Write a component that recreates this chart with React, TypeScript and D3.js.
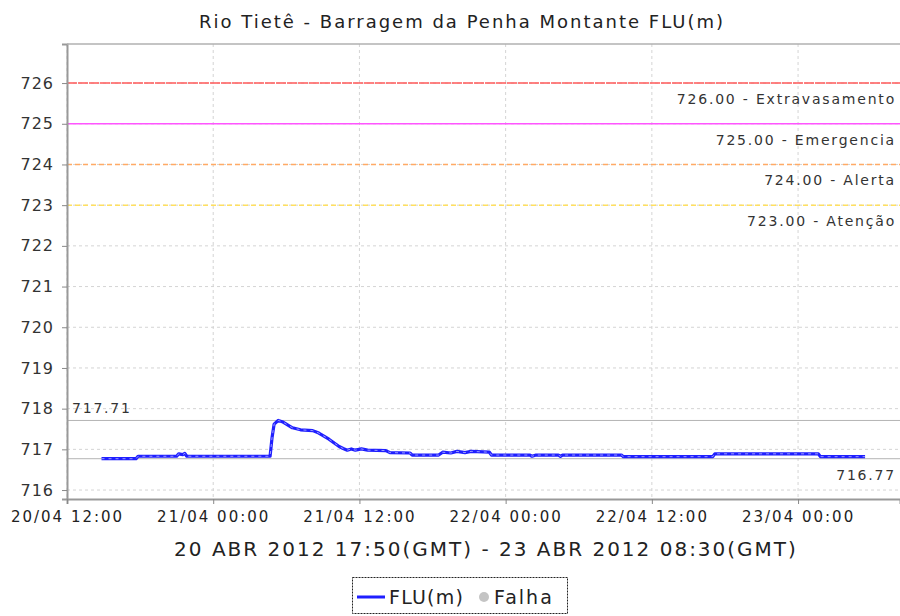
import { useEffect, useRef } from "react";
import * as d3 from "d3";

const chartTitle = "Rio Tietê - Barragem da Penha Montante FLU(m)";
const periodLabel = "20 ABR 2012 17:50(GMT) - 23 ABR 2012 08:30(GMT)";

// readings, local time (GMT-3)
const times = [
  "2012-04-20 14:50", "2012-04-20 17:40", "2012-04-20 17:50", "2012-04-20 21:00",
  "2012-04-20 21:10", "2012-04-20 21:30", "2012-04-20 21:40", "2012-04-20 21:50",
  "2012-04-21 04:40", "2012-04-21 04:50", "2012-04-21 05:00", "2012-04-21 05:20",
  "2012-04-21 05:40", "2012-04-21 06:00", "2012-04-21 06:30", "2012-04-21 07:10",
  "2012-04-21 08:10", "2012-04-21 08:40", "2012-04-21 09:30", "2012-04-21 10:20",
  "2012-04-21 10:40", "2012-04-21 11:00", "2012-04-21 11:20", "2012-04-21 11:40",
  "2012-04-21 12:10", "2012-04-21 12:40", "2012-04-21 14:10", "2012-04-21 14:30",
  "2012-04-21 16:10", "2012-04-21 16:20", "2012-04-21 18:30", "2012-04-21 18:50",
  "2012-04-21 19:30", "2012-04-21 20:00", "2012-04-21 20:40", "2012-04-21 21:10",
  "2012-04-21 22:40", "2012-04-21 22:50", "2012-04-22 02:00", "2012-04-22 02:10",
  "2012-04-22 02:30", "2012-04-22 04:20", "2012-04-22 04:30", "2012-04-22 04:40",
  "2012-04-22 09:30", "2012-04-22 09:40", "2012-04-22 17:00", "2012-04-22 17:10",
  "2012-04-23 01:40", "2012-04-23 01:50", "2012-04-23 05:30",
];
const levels = [
  716.77, 716.77, 716.83, 716.83,
  716.89, 716.87, 716.9, 716.83,
  716.83, 717.3, 717.62, 717.71,
  717.68, 717.62, 717.53, 717.48,
  717.46, 717.4, 717.25, 717.07,
  717.02, 716.98, 717.01, 716.98,
  717.01, 716.98, 716.97, 716.92,
  716.91, 716.86, 716.86, 716.93,
  716.91, 716.95, 716.92, 716.95,
  716.93, 716.86, 716.86, 716.83,
  716.86, 716.86, 716.83, 716.86,
  716.86, 716.82, 716.82, 716.89,
  716.89, 716.82, 716.82,
];

const yTicks = [716, 717, 718, 719, 720, 721, 722, 723, 724, 725, 726];
const xTicks = ["2012-04-20 12:00", "2012-04-21 00:00", "2012-04-21 12:00", "2012-04-22 00:00", "2012-04-22 12:00", "2012-04-23 00:00"];
const xDomain = ["2012-04-20 12:00", "2012-04-23 08:22"];
const yDomain = [715.78, 726.96];

const limitValues = [726, 725, 724, 723];
const limitNames = ["Extravasamento", "Emergencia", "Alerta", "Atenção"];

const legendNames = ["FLU(m)", "Falha"];

const limitStyle: Record<number, { color: string; dash: string }> = {
  726: { color: "#ff5a5a", dash: "10,1" },
  725: { color: "#ff55ff", dash: "none" },
  724: { color: "#ffaa66", dash: "5,3" },
  723: { color: "#ffe060", dash: "5,3" },
};

const FONT = "'DejaVu Sans', sans-serif";

export default function App() {
  const ref = useRef<SVGSVGElement>(null);

  useEffect(() => {
    if (!ref.current) return;
    const svg = d3.select(ref.current);
    svg.selectAll("*").remove();

    const W = 900;
    const H = 616;
    const margin = { top: 44, right: 0, bottom: 117, left: 67 };
    const innerW = W - margin.left - margin.right;
    const innerH = H - margin.top - margin.bottom;

    const parse = d3.utcParse("%Y-%m-%d %H:%M");
    const fmt = d3.utcFormat("%d/%m %H:%M");

    const x = d3
      .scaleUtc()
      .domain(xDomain.map((s) => parse(s) as Date))
      .range([0, innerW]);

    const y = d3.scaleLinear().domain(yDomain).range([innerH, 0]);

    svg
      .append("text")
      .attr("x", 462)
      .attr("y", 28)
      .attr("text-anchor", "middle")
      .attr("fill", "#222")
      .style("font-family", FONT)
      .style("font-size", "18px")
      .style("letter-spacing", "2px")
      .text(chartTitle);

    const g = svg.append("g").attr("transform", `translate(${margin.left},${margin.top})`);

    g.append("rect").attr("width", innerW).attr("height", innerH).attr("fill", "#fff");

    // grid
    g.append("g")
      .selectAll("line")
      .data(yTicks)
      .enter()
      .append("line")
      .attr("x1", 0)
      .attr("x2", innerW)
      .attr("y1", (d) => y(d))
      .attr("y2", (d) => y(d))
      .attr("stroke", "#d4d4d4")
      .attr("stroke-dasharray", "3,3");

    g.append("g")
      .selectAll("line")
      .data(xTicks)
      .enter()
      .append("line")
      .attr("x1", (d) => x(parse(d) as Date))
      .attr("x2", (d) => x(parse(d) as Date))
      .attr("y1", 0)
      .attr("y2", innerH)
      .attr("stroke", "#d4d4d4")
      .attr("stroke-dasharray", "3,3");

    // alarm levels
    const limits = g.append("g");
    limitValues.forEach((v, i) => {
      limits
        .append("line")
        .attr("x1", 0)
        .attr("x2", innerW)
        .attr("y1", y(v))
        .attr("y2", y(v))
        .attr("stroke", limitStyle[v].color)
        .attr("stroke-width", 1.5)
        .attr("stroke-dasharray", limitStyle[v].dash);
      limits
        .append("text")
        .attr("x", innerW - 4)
        .attr("y", y(v) + 21)
        .attr("text-anchor", "end")
        .attr("fill", "#333")
        .style("font-family", FONT)
        .style("font-size", "14px")
        .style("letter-spacing", "1.8px")
        .text(`${v.toFixed(2)} - ${limitNames[i]}`);
    });

    // max / min markers
    const maxV = d3.max(levels) as number;
    const minV = d3.min(levels) as number;

    [maxV, minV].forEach((v) => {
      g.append("line")
        .attr("x1", 0)
        .attr("x2", innerW)
        .attr("y1", y(v))
        .attr("y2", y(v))
        .attr("stroke", "#b4b4b4")
        .attr("stroke-width", 1);
    });
    g.append("text")
      .attr("x", 5)
      .attr("y", y(maxV) - 7)
      .attr("fill", "#333")
      .style("font-family", FONT)
      .style("font-size", "14px")
      .style("letter-spacing", "1.8px")
      .text(maxV.toFixed(2));
    g.append("text")
      .attr("x", innerW - 4)
      .attr("y", y(minV) + 21)
      .attr("text-anchor", "end")
      .attr("fill", "#333")
      .style("font-family", FONT)
      .style("font-size", "14px")
      .style("letter-spacing", "1.8px")
      .text(minV.toFixed(2));

    // series
    const points = times.map((t, i) => ({ t: parse(t) as Date, v: levels[i] }));
    const line = d3
      .line<{ t: Date; v: number }>()
      .x((d) => x(d.t))
      .y((d) => y(d.v));

    g.append("path")
      .datum(points)
      .attr("d", line)
      .attr("fill", "none")
      .attr("stroke", "#1f1fff")
      .attr("stroke-width", 3.2)
      .attr("stroke-linejoin", "round");

    g.append("path")
      .datum(points)
      .attr("d", line)
      .attr("fill", "none")
      .attr("stroke", "#ffffff")
      .attr("stroke-opacity", 0.7)
      .attr("stroke-width", 0.8)
      .attr("stroke-dasharray", "3,4");

    // axes
    const yAxis = g
      .append("g")
      .call(d3.axisLeft(y).tickValues(yTicks).tickSize(5).tickPadding(8).tickFormat(d3.format("d")));
    yAxis.select(".domain").attr("stroke", "#999").attr("stroke-width", 2);
    yAxis.selectAll(".tick line").attr("stroke", "#888");
    yAxis
      .selectAll(".tick text")
      .attr("fill", "#333")
      .style("font-family", FONT)
      .style("font-size", "16px")
      .style("letter-spacing", "1px");

    const xAxis = g
      .append("g")
      .attr("transform", `translate(0,${innerH})`)
      .call(
        d3
          .axisBottom(x)
          .tickValues(xTicks.map((s) => parse(s) as Date))
          .tickSize(5)
          .tickPadding(7)
          .tickFormat((d) => fmt(d as Date))
      );
    xAxis.select(".domain").attr("stroke", "#999").attr("stroke-width", 2);
    xAxis.selectAll(".tick line").attr("stroke", "#888");
    xAxis
      .selectAll(".tick text")
      .attr("fill", "#222")
      .style("font-family", FONT)
      .style("font-size", "15px")
      .style("letter-spacing", "2px");

    // top border
    g.append("line")
      .attr("x1", 0)
      .attr("x2", innerW)
      .attr("y1", 0)
      .attr("y2", 0)
      .attr("stroke", "#b0b0b0")
      .attr("stroke-width", 1.5);

    svg
      .append("text")
      .attr("x", 486)
      .attr("y", 556)
      .attr("text-anchor", "middle")
      .attr("fill", "#222")
      .style("font-family", FONT)
      .style("font-size", "20px")
      .style("letter-spacing", "2px")
      .text(periodLabel);

    // legend
    const leg = svg.append("g");
    leg
      .append("rect")
      .attr("x", 352.5)
      .attr("y", 577.5)
      .attr("width", 215)
      .attr("height", 36)
      .attr("fill", "#fff")
      .attr("stroke", "#222")
      .attr("stroke-dasharray", "2,1");
    leg
      .append("line")
      .attr("x1", 357)
      .attr("x2", 385)
      .attr("y1", 597)
      .attr("y2", 597)
      .attr("stroke", "#1f1fff")
      .attr("stroke-width", 3);
    leg
      .append("text")
      .attr("x", 389)
      .attr("y", 604)
      .attr("fill", "#222")
      .style("font-family", FONT)
      .style("font-size", "19px")
      .style("letter-spacing", "1.2px")
      .text(legendNames[0]);
    leg.append("circle").attr("cx", 484).attr("cy", 597).attr("r", 5).attr("fill", "#c4c4c4");
    leg
      .append("text")
      .attr("x", 494)
      .attr("y", 604)
      .attr("fill", "#222")
      .style("font-family", FONT)
      .style("font-size", "19px")
      .style("letter-spacing", "2px")
      .text(legendNames[1]);
  }, []);

  return (
    <svg
      ref={ref}
      width={900}
      height={616}
      style={{ position: "absolute", left: 0, top: 0, background: "#fff" }}
    />
  );
}
